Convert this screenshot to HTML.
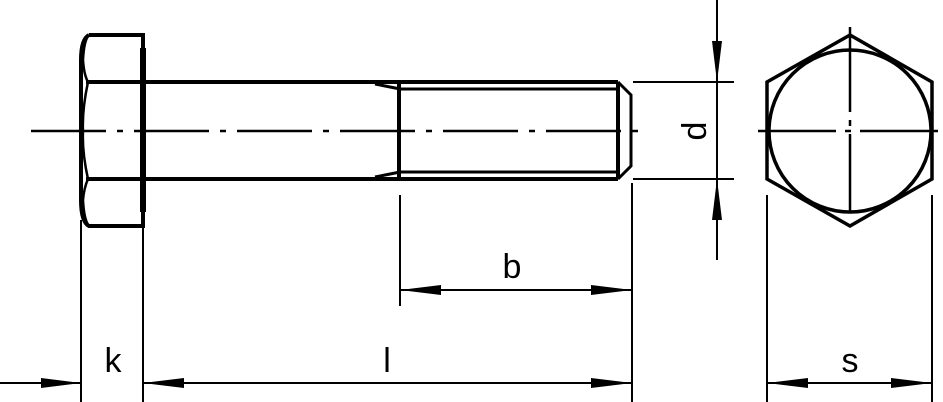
<!DOCTYPE html>
<html><head><style>body{margin:0;background:#fff}svg{display:block}</style></head><body>
<svg width="943" height="402" viewBox="0 0 943 402" xmlns="http://www.w3.org/2000/svg">
<g fill="none" stroke="#000" stroke-linecap="butt">
<!-- head -->
<path d="M89,35 L143,35 L143,226 L89,226 Q81,222 81,200 L81,60 Q81,39 89,35" stroke-width="4"/>
<path d="M89,35 Q84,40 83,60 Q84,75 88,82 Q82,110 83,131 Q82,152 88,179 Q84,188 83,200 Q84,220 89,226" stroke-width="2.5"/>
<line x1="86" y1="82" x2="143" y2="82" stroke-width="4"/>
<line x1="86" y1="179" x2="143" y2="179" stroke-width="4"/>
<line x1="143" y1="48" x2="143" y2="212" stroke-width="6"/>
<!-- shank -->
<line x1="143" y1="82" x2="618" y2="82" stroke-width="4"/>
<line x1="143" y1="179" x2="618" y2="179" stroke-width="4"/>
<path d="M375,84 L400,89 L618,89 M375,177 L400,172 L618,172" stroke-width="3"/>
<line x1="399" y1="82" x2="399" y2="179" stroke-width="4"/>
<line x1="618" y1="82" x2="618" y2="179" stroke-width="4"/>
<path d="M618,82 L631,95 L631,166 L618,179" stroke-width="3"/>
<!-- centerline -->
<line x1="31" y1="131" x2="640" y2="131" stroke-width="2.5" stroke-dasharray="75,11,6,11"/>
<!-- d dimension -->
<line x1="633" y1="82" x2="734" y2="82" stroke-width="2"/>
<line x1="633" y1="179" x2="734" y2="179" stroke-width="2"/>
<line x1="717" y1="0" x2="717" y2="260" stroke-width="2"/>
<!-- hex view -->
<polygon points="850,35 932,82 932,179 850,226 767,179 767,82" stroke-width="3.5"/>
<circle cx="850" cy="131" r="81" stroke-width="3.5"/>
<line x1="850" y1="27" x2="850" y2="212" stroke-width="2.5" stroke-dasharray="85,8,6,8"/>
<line x1="758" y1="131" x2="943" y2="131" stroke-width="2.5" stroke-dasharray="78,9,6,9"/>
<!-- extension lines -->
<line x1="81" y1="220" x2="81" y2="402" stroke-width="2"/>
<line x1="143" y1="226" x2="143" y2="402" stroke-width="2"/>
<line x1="400" y1="195" x2="400" y2="306" stroke-width="2"/>
<line x1="632" y1="183" x2="632" y2="402" stroke-width="2"/>
<line x1="767" y1="195" x2="767" y2="402" stroke-width="2"/>
<line x1="932" y1="195" x2="932" y2="402" stroke-width="2"/>
<!-- dim lines -->
<line x1="0" y1="383" x2="81" y2="383" stroke-width="2"/>
<line x1="143" y1="383" x2="632" y2="383" stroke-width="2"/>
<line x1="400" y1="290" x2="632" y2="290" stroke-width="2"/>
<line x1="767" y1="383" x2="932" y2="383" stroke-width="2"/>
</g>
<g fill="#000">
<polygon points="81,383 41,378 41,388"/>
<polygon points="143,383 184,378 184,388"/>
<polygon points="632,383 591,378 591,388"/>
<polygon points="400,290 441,285 441,295"/>
<polygon points="632,290 591,285 591,295"/>
<polygon points="767,383 808,378 808,388"/>
<polygon points="932,383 891,378 891,388"/>
<polygon points="717,82 712,41 722,41"/>
<polygon points="717,179 712,220 722,220"/>
</g>
<g font-family="Liberation Sans, sans-serif" font-size="34" text-anchor="middle">
<text x="113" y="372">k</text>
<text x="387" y="372">l</text>
<text x="512" y="278">b</text>
<text x="850" y="372">s</text>
<text transform="translate(706,131) rotate(-90)">d</text>
</g>
</svg>
</body></html>
